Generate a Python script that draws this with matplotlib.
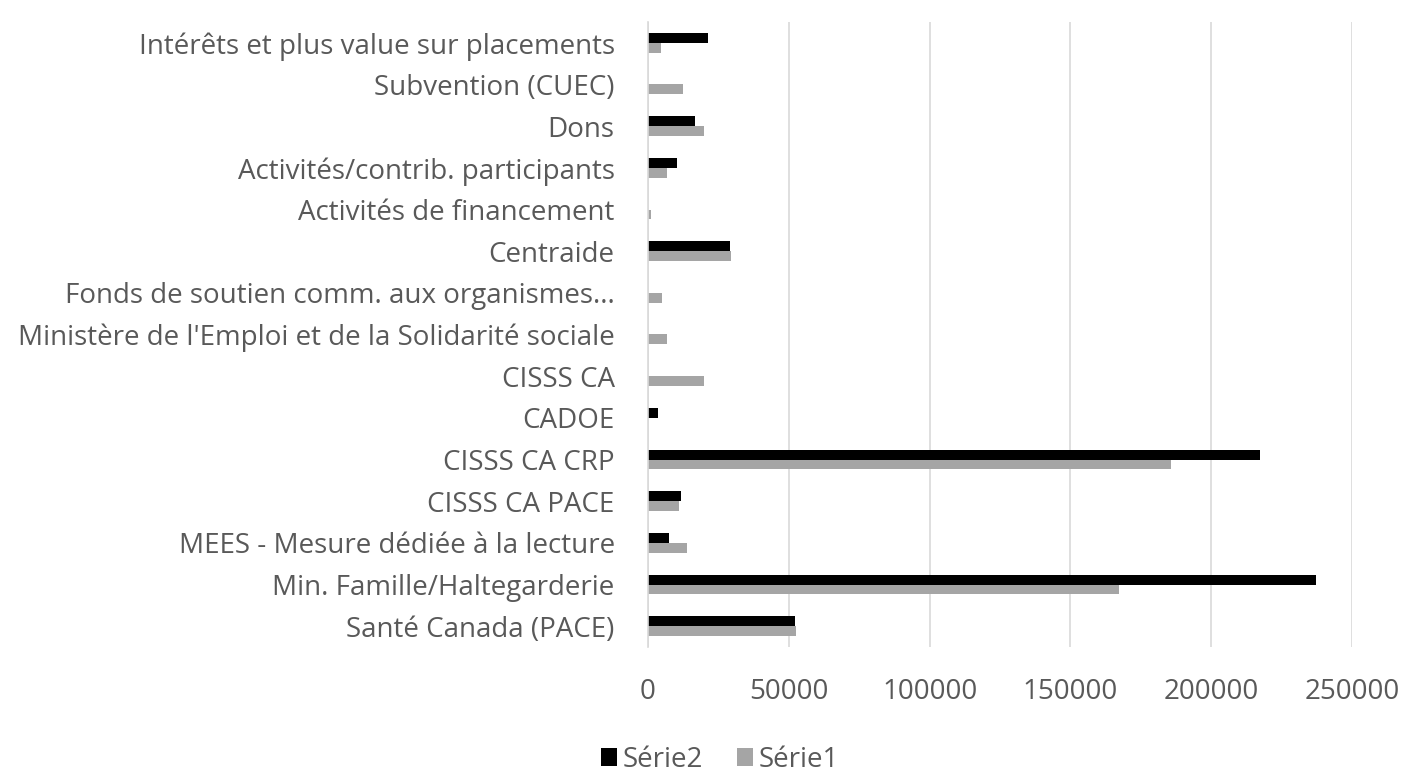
import matplotlib
matplotlib.use("Agg")
import matplotlib.pyplot as plt
import numpy as np

plt.rcParams['font.family'] = ['Open Sans', 'DejaVu Sans']

categories = [
    "Santé Canada (PACE)",
    "Min. Famille/Haltegarderie",
    "MEES - Mesure dédiée à la lecture",
    "CISSS CA PACE",
    "CISSS CA CRP",
    "CADOE",
    "CISSS CA",
    "Ministère de l'Emploi et de la Solidarité sociale",
    "Fonds de soutien comm. aux organismes...",
    "Centraide",
    "Activités de financement",
    "Activités/contrib. participants",
    "Dons",
    "Subvention (CUEC)",
    "Intérêts et plus value sur placements",
]
serie1 = [52400, 167300, 14000, 11100, 185600, 0, 19900, 6900, 4900, 29400, 1000, 6900, 19800, 12500, 4600]
serie2 = [52200, 237100, 7300, 11600, 217300, 3700, 0, 0, 0, 29100, 0, 10200, 16700, 0, 21300]
xticks = [0, 50000, 100000, 150000, 200000, 250000]

fig = plt.figure(figsize=(14.05, 7.72), dpi=100)
ax = fig.add_axes([648/1405, 1-647/772, (1352-648)/1405, (647-22)/772])

y = np.arange(len(categories))
h = 0.235
ax.barh(y + h/2, serie2, height=h, color='#000000', label='Série2', zorder=3)
ax.barh(y - h/2, serie1, height=h, color='#a5a5a5', label='Série1', zorder=3)

ax.set_xlim(0, 250000)
ax.set_ylim(-0.5, len(categories) - 0.5)
ax.set_xticks(xticks)
ax.set_xticklabels([str(v) for v in xticks])
ax.set_yticks(y)
ax.set_yticklabels(categories)
ax.tick_params(axis='both', length=0, labelsize=20, colors='#595959')
ax.tick_params(axis='y', pad=24)
ax.tick_params(axis='x', pad=22)
ax.xaxis.grid(True, color='#d9d9d9', linewidth=1.2, zorder=0)
for s in ['top', 'right', 'bottom']:
    ax.spines[s].set_visible(False)
ax.spines['left'].set_color('#d9d9d9')
ax.spines['left'].set_linewidth(1.2)
ax.spines['left'].set_zorder(4)

fig.legend(loc='center', bbox_to_anchor=(720/1405, 1-760/772), ncol=2, frameon=False,
           fontsize=20, handlelength=0.6, handleheight=0.6, handletextpad=0.2,
           columnspacing=1.2, labelcolor='#595959', borderpad=0.1)

fig.savefig('out.png', dpi=100, facecolor='white')
